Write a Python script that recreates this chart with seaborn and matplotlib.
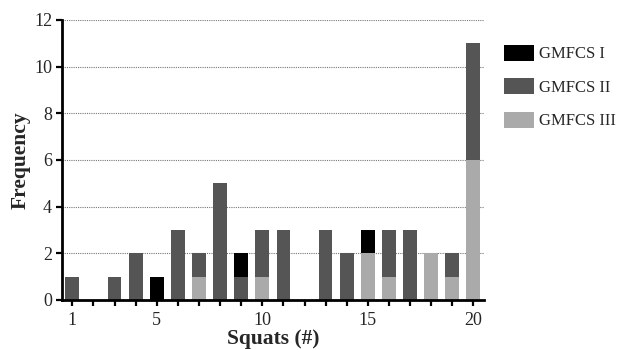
import numpy as np
import pandas as pd
import matplotlib
matplotlib.use("Agg")
import matplotlib.pyplot as plt
import seaborn as sns
from matplotlib.patches import Patch

squats = list(range(1, 21))
gmfcs_1 = [0, 0, 0, 0, 1, 0, 0, 0, 1, 0, 0, 0, 0, 0, 1, 0, 0, 0, 0, 0]
gmfcs_2 = [1, 0, 1, 2, 0, 3, 1, 5, 1, 2, 3, 0, 3, 2, 0, 2, 3, 0, 1, 5]
gmfcs_3 = [0, 0, 0, 0, 0, 0, 1, 0, 0, 1, 0, 0, 0, 0, 2, 1, 0, 2, 1, 6]
levels = ["GMFCS I", "GMFCS II", "GMFCS III"]
colors = ["#000000", "#555555", "#aaaaaa"]
x_ticks = [1, 5, 10, 15, 20]
y_ticks = [0, 2, 4, 6, 8, 10, 12]

rows = []
for lvl, vals in zip(levels, [gmfcs_1, gmfcs_2, gmfcs_3]):
    for s, v in zip(squats, vals):
        rows.append({"Squats": s, "Frequency": v, "Level": lvl})
df = pd.DataFrame(rows)

sns.set_style("white")
plt.rcParams["font.family"] = ["Liberation Serif", "DejaVu Serif"]

fig = plt.figure(figsize=(6.18, 3.5), dpi=100)
ax = fig.add_axes([0.100, 0.143, 0.683, 0.800])

sns.histplot(data=df, x="Squats", weights="Frequency", hue="Level",
             hue_order=levels, palette=colors, multiple="stack",
             discrete=True, shrink=0.65, linewidth=0, alpha=1,
             legend=False, ax=ax)

ax.set_xlim(0.5, 20.5)
ax.set_ylim(0, 12)
ax.set_yticks(y_ticks)
ax.set_xticks(squats, minor=True)
ax.set_xticks(x_ticks)
ax.set_xticklabels([str(t) for t in x_ticks], fontsize=13)
ax.set_yticklabels([str(t) for t in y_ticks], fontsize=13)
ax.tick_params(axis="both", which="both", direction="out", length=4, width=1.6,
               color="black", pad=3, bottom=True, left=True)
ax.tick_params(axis="x", which="major", pad=5)

for y in y_ticks[1:]:
    ax.axhline(y, color="#777777", linestyle=(0, (1, 1)), linewidth=0.8, zorder=0)

sns.despine(ax=ax)
for sp in ["left", "bottom"]:
    ax.spines[sp].set_linewidth(2)
    ax.spines[sp].set_color("black")

ax.set_xlabel("Squats (#)", fontsize=15.5, fontweight="bold", labelpad=0)
ax.set_ylabel("Frequency", fontsize=15.5, fontweight="bold", labelpad=2)

handles = [Patch(facecolor=c, edgecolor="none") for c in colors]
fig.legend(handles, levels, loc="upper left", bbox_to_anchor=(0.815, 0.872),
           frameon=False, fontsize=12, handlelength=1.8, handleheight=1.1,
           labelspacing=0.95, handletextpad=0.3, borderpad=0, borderaxespad=0)

fig.savefig("out.png", dpi=100)
